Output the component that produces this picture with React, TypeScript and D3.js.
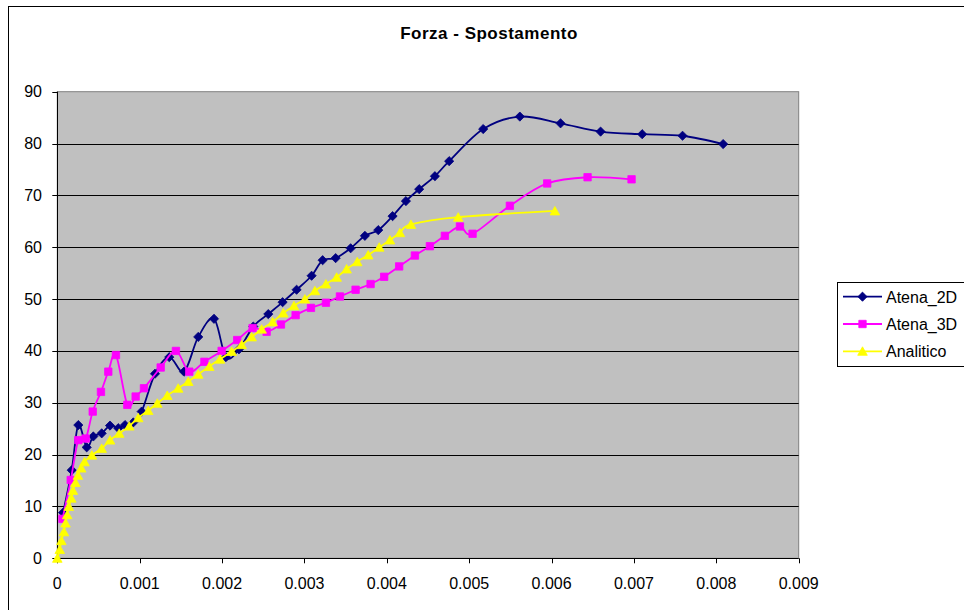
import React from "react";
import * as d3 from "d3";

const title = "Forza - Spostamento";
const xTicks = [0, 0.001, 0.002, 0.003, 0.004, 0.005, 0.006, 0.007, 0.008, 0.009];
const xTickLabels = ["0", "0.001", "0.002", "0.003", "0.004", "0.005", "0.006", "0.007", "0.008", "0.009"];
const yTicks = [0, 10, 20, 30, 40, 50, 60, 70, 80, 90];

const atena2dX = [0.00007, 0.000175, 0.000255, 0.000357, 0.000437, 0.000539, 0.00064, 0.00074, 0.000822, 0.000922, 0.001024, 0.001186, 0.001359, 0.001538, 0.001711, 0.001902, 0.002047, 0.002205, 0.002379, 0.002561, 0.002735, 0.002905, 0.003087, 0.003221, 0.003379, 0.003561, 0.003734, 0.003896, 0.00407, 0.004232, 0.004393, 0.004584, 0.004757, 0.00517, 0.005615, 0.006109, 0.006595, 0.0071, 0.00759, 0.008083];
const atena2dY = [8.8, 17.0, 25.7, 21.4, 23.5, 24.1, 25.6, 25.1, 25.7, 26.2, 28.3, 35.6, 38.8, 36.0, 42.7, 46.2, 38.8, 40.3, 44.7, 47.1, 49.4, 51.8, 54.5, 57.5, 57.9, 59.8, 62.2, 63.3, 66.0, 68.9, 71.2, 73.7, 76.6, 82.8, 85.2, 83.9, 82.3, 81.8, 81.5, 79.9];

const atena3dX = [0.000063, 0.000163, 0.000255, 0.000345, 0.00043, 0.00053, 0.000619, 0.000712, 0.00085, 0.000951, 0.001052, 0.001255, 0.00144, 0.001602, 0.001786, 0.001995, 0.002184, 0.002371, 0.002541, 0.002715, 0.002893, 0.003079, 0.003261, 0.003431, 0.003621, 0.003803, 0.003968, 0.00415, 0.004341, 0.004523, 0.004705, 0.004888, 0.005041, 0.005494, 0.005947, 0.006437, 0.006971];
const atena3dY = [7.6, 15.1, 22.8, 23.1, 28.3, 32.1, 36.0, 39.2, 29.6, 31.2, 32.8, 36.8, 40.0, 36.0, 37.9, 40.0, 42.1, 44.4, 43.7, 45.1, 46.9, 48.3, 49.3, 50.5, 51.8, 52.9, 54.3, 56.3, 58.4, 60.2, 62.2, 64.0, 62.6, 68.0, 72.3, 73.5, 73.1];

const analiticoX = [0, 0.00003, 0.00005, 0.00008, 0.0001, 0.00012, 0.00014, 0.00017, 0.00019, 0.00022, 0.00025, 0.00029, 0.00033, 0.00042, 0.000539, 0.00064, 0.000752, 0.000874, 0.000983, 0.001104, 0.001214, 0.001335, 0.001468, 0.00159, 0.001711, 0.001845, 0.001975, 0.002117, 0.002238, 0.002359, 0.002481, 0.002614, 0.002743, 0.002873, 0.003006, 0.003127, 0.003261, 0.003391, 0.003512, 0.003641, 0.003774, 0.003908, 0.004038, 0.004159, 0.004293, 0.004867, 0.00604];
const analiticoY = [0, 1.7, 3.4, 5.1, 6.8, 8.4, 10.0, 11.6, 13.1, 14.6, 16.0, 17.4, 18.6, 19.9, 21.2, 22.8, 24.1, 25.5, 27.1, 28.5, 29.9, 31.4, 32.8, 34.1, 35.5, 37.0, 38.4, 39.9, 41.2, 42.7, 44.2, 45.6, 47.3, 48.7, 50.0, 51.6, 52.9, 54.2, 55.8, 57.2, 58.5, 60.0, 61.4, 62.8, 64.4, 65.8, 67.0];

const seriesNames = ["Atena_2D", "Atena_3D", "Analitico"];
const seriesColors = ["#000080", "#FF00FF", "#FFFF00"];
const seriesMarkers = ["diamond", "square", "triangle"];

const FONT = "'Liberation Sans', Arial, sans-serif";

function markerPath(kind: string, cx: number, cy: number): string {
  if (kind === "diamond") {
    const r = 4.6;
    return `M${cx},${cy - r}L${cx + r},${cy}L${cx},${cy + r}L${cx - r},${cy}Z`;
  }
  if (kind === "square") {
    const r = 3.7;
    return `M${cx - r},${cy - r}H${cx + r}V${cy + r}H${cx - r}Z`;
  }
  const h = 4.5;
  return `M${cx},${cy - h}L${cx + 4.8},${cy + h - 0.5}L${cx - 4.8},${cy + h - 0.5}Z`;
}

export default function App() {
  const x = d3.scaleLinear().domain([0, 0.009]).range([57.3, 798.7]);
  const y = d3.scaleLinear().domain([0, 90]).range([558.3, 91.7]);

  const data = [
    d3.zip(atena2dX, atena2dY),
    d3.zip(atena3dX, atena3dY),
    d3.zip(analiticoX, analiticoY),
  ] as [number, number][][];

  const line = d3
    .line<[number, number]>()
    .x((d) => x(d[0]))
    .y((d) => y(d[1]))
    .curve(d3.curveCatmullRom.alpha(0));

  const [x0, x1] = x.range();
  const [yb, yt] = y.range();

  return (
    <svg
      width={964}
      height={610}
      style={{ position: "absolute", left: 0, top: 0, background: "#fff" }}
      fontFamily={FONT}
    >
      <rect x={8.5} y={6.5} width={1000} height={1000} fill="#fff" stroke="#000" strokeWidth={1} />
      <text x={489} y={39} textAnchor="middle" fontWeight="bold" fontSize={17} letterSpacing={0.5} fill="#000">
        {title}
      </text>

      <rect x={x0} y={yt} width={x1 - x0} height={yb - yt} fill="#C0C0C0" stroke="#808080" strokeWidth={1} />
      {yTicks.map((t) => (
        <g key={"y" + t}>
          {t > 0 && t < 90 && (
            <line x1={x0} x2={x1} y1={Math.round(y(t)) + 0.5} y2={Math.round(y(t)) + 0.5} stroke="#000" strokeWidth={1} />
          )}
          <line x1={x0 - 5} x2={x0} y1={Math.round(y(t)) + 0.5} y2={Math.round(y(t)) + 0.5} stroke="#000" strokeWidth={1} />
          <text x={42} y={y(t) + 5.5} textAnchor="end" fontSize={16} fill="#000">
            {t}
          </text>
        </g>
      ))}
      <line x1={Math.round(x0) + 0.5} x2={Math.round(x0) + 0.5} y1={yt} y2={yb} stroke="#000" strokeWidth={1} />
      <line x1={x0} x2={x1} y1={Math.round(yb) + 0.5} y2={Math.round(yb) + 0.5} stroke="#000" strokeWidth={1} />
      {xTicks.map((t, i) => (
        <g key={"x" + i}>
          <line x1={Math.round(x(t)) + 0.5} x2={Math.round(x(t)) + 0.5} y1={yb} y2={yb + 5} stroke="#000" strokeWidth={1} />
          <text x={x(t)} y={589} textAnchor="middle" fontSize={16} fill="#000">
            {xTickLabels[i]}
          </text>
        </g>
      ))}

      {data.map((pts, si) => (
        <g key={"s" + si}>
          <path d={line(pts) || ""} fill="none" stroke={seriesColors[si]} strokeWidth={1.8} />
          {pts.map((p, j) => (
            <path key={j} d={markerPath(seriesMarkers[si], x(p[0]), y(p[1]))} fill={seriesColors[si]} stroke={seriesColors[si]} strokeWidth={0.8} />
          ))}
        </g>
      ))}

      <rect x={837.5} y={282.5} width={130} height={84} fill="#fff" stroke="#000" strokeWidth={1} />
      {seriesNames.map((n, i) => {
        const ly = 296.7 + i * 27.3;
        return (
          <g key={"l" + i}>
            <line x1={843} x2={882} y1={ly} y2={ly} stroke={seriesColors[i]} strokeWidth={1.8} />
            <path d={markerPath(seriesMarkers[i], 862.5, ly)} fill={seriesColors[i]} stroke={seriesColors[i]} strokeWidth={0.8} />
            <text x={886} y={ly + 5.8} fontSize={16} fill="#000">
              {n}
            </text>
          </g>
        );
      })}
    </svg>
  );
}
